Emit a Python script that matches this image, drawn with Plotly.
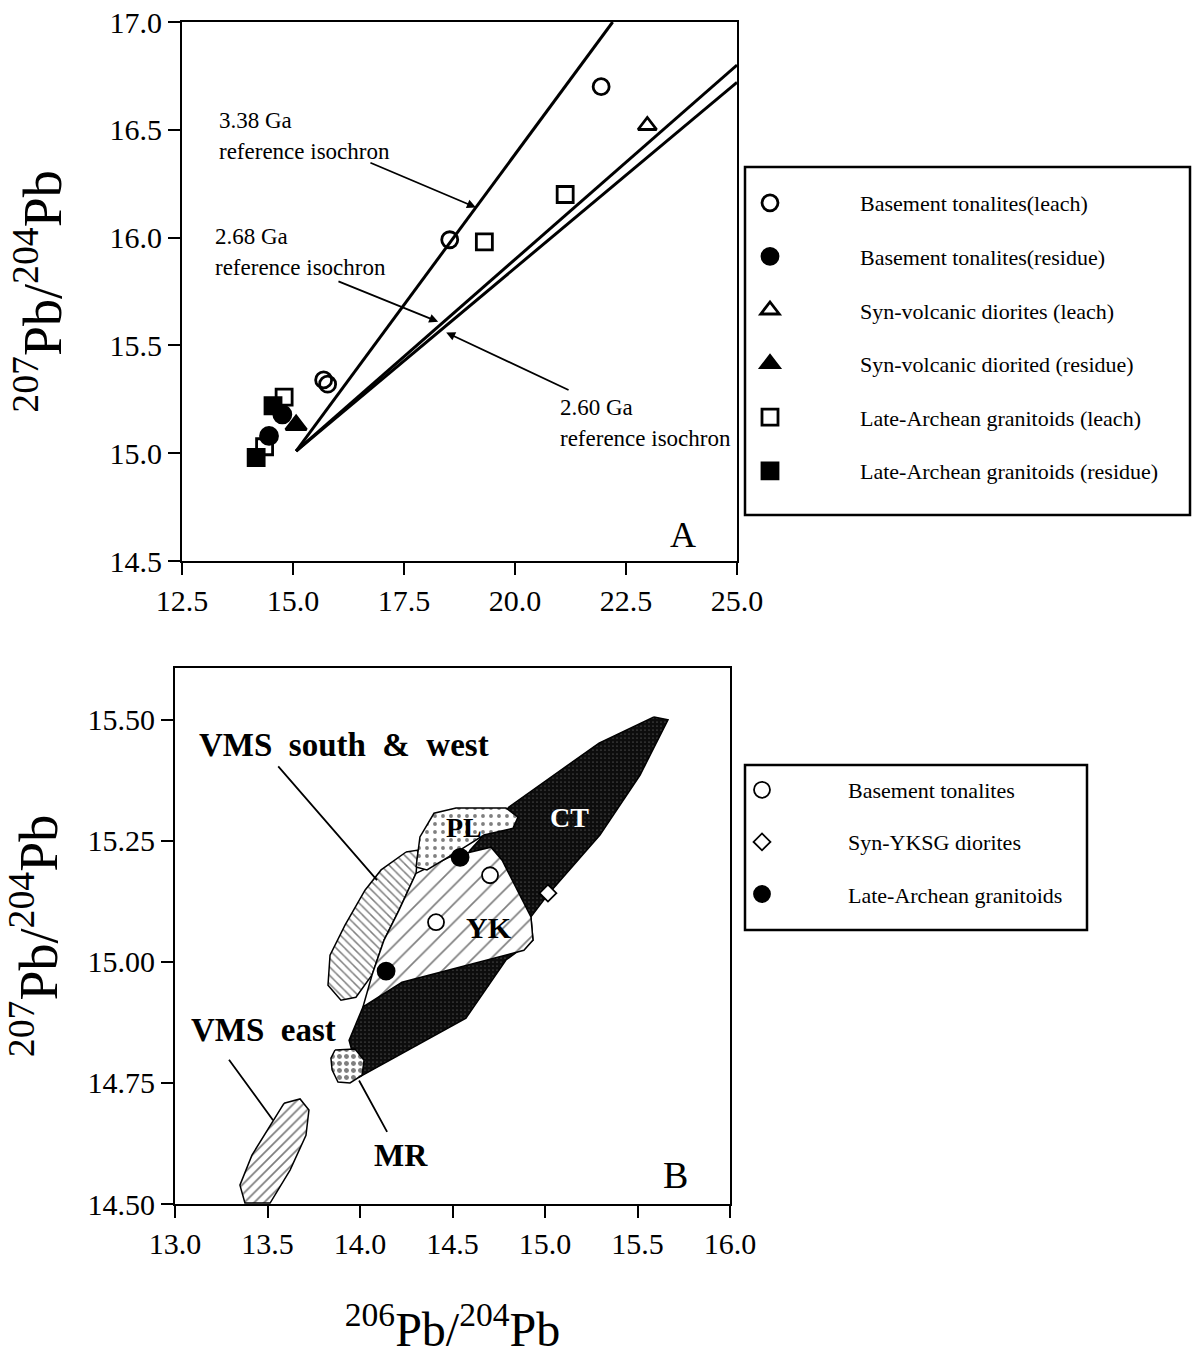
import plotly.graph_objects as go

SERIF = "Liberation Serif"

# ---------------- Panel A: leach / residue Pb compositions ----------------
bt_leach_x = [21.94, 18.53, 15.69, 15.78]
bt_leach_y = [16.70, 15.99, 15.34, 15.32]
bt_res_x = [14.76, 14.46]
bt_res_y = [15.18, 15.08]
sv_leach_x = [22.98]
sv_leach_y = [16.52]
sv_res_x = [15.07]
sv_res_y = [15.13]
la_leach_x = [21.13, 19.31, 14.80, 14.36]
la_leach_y = [16.20, 15.98, 15.26, 15.03]
la_res_x = [14.55, 14.17]
la_res_y = [15.22, 14.98]

# reference isochrons (start / end points)
iso338_x = [15.07, 22.20]
iso338_y = [15.01, 17.00]
iso268_x = [15.07, 25.00]
iso268_y = [15.01, 16.80]
iso260_x = [15.07, 25.00]
iso260_y = [15.01, 16.72]

# ---------------- Panel B: field outlines ----------------
ct_x = [15.589, 15.665, 15.514, 15.297, 15.022, 14.924, 14.935, 14.789, 14.573,
        13.995, 13.941, 14.016, 14.227, 14.432, 14.595, 14.805, 15.292]
ct_y = [15.506, 15.500, 15.386, 15.262, 15.142, 15.093, 15.045, 15.004, 14.884,
        14.762, 14.838, 14.907, 14.958, 15.086, 15.231, 15.320, 15.452]
yk_x = [14.303, 14.481, 14.708, 14.768, 14.924, 14.935, 14.886, 14.227, 14.016,
        14.065, 14.130, 14.211]
yk_y = [15.183, 15.216, 15.237, 15.210, 15.093, 15.045, 15.024, 14.958, 14.907,
        14.973, 15.045, 15.107]
pl_x = [14.303, 14.324, 14.400, 14.519, 14.789, 14.854, 14.827, 14.670, 14.557, 14.362]
pl_y = [15.196, 15.258, 15.307, 15.318, 15.318, 15.299, 15.276, 15.262, 15.235, 15.190]
vsw_x = [14.249, 14.314, 14.303, 14.211, 14.130, 14.065, 13.978, 13.897, 13.827,
         13.838, 13.919, 14.027, 14.114]
vsw_y = [15.227, 15.231, 15.183, 15.107, 15.045, 14.973, 14.927, 14.921, 14.952,
         15.014, 15.076, 15.148, 15.190]
ve_x = [13.589, 13.676, 13.724, 13.708, 13.622, 13.514, 13.378, 13.351, 13.416, 13.514]
ve_y = [14.708, 14.717, 14.694, 14.642, 14.570, 14.502, 14.502, 14.539, 14.601, 14.663]
mr_x = [13.865, 13.973, 14.022, 14.011, 13.946, 13.881, 13.849, 13.843]
mr_y = [14.818, 14.820, 14.797, 14.766, 14.750, 14.752, 14.777, 14.801]

# Panel B samples
b_bt_x = [14.703, 14.411]
b_bt_y = [15.179, 15.082]
b_sd_x = [15.016]
b_sd_y = [15.142]
b_la_x = [14.541, 14.141]
b_la_y = [15.216, 14.981]

fig = go.Figure()

# isochron lines
for lx, ly in [(iso338_x, iso338_y), (iso268_x, iso268_y), (iso260_x, iso260_y)]:
    fig.add_trace(go.Scatter(x=lx, y=ly, mode="lines", line=dict(color="black", width=3),
                             showlegend=False, hoverinfo="skip", xaxis="x", yaxis="y"))

top_series = [
    ("Basement tonalites(leach)", bt_leach_x, bt_leach_y, "circle-open", 16),
    ("Basement tonalites(residue)", bt_res_x, bt_res_y, "circle", 17),
    ("Syn-volcanic diorites (leach)", sv_leach_x, sv_leach_y, "triangle-up-open", 16),
    ("Syn-volcanic diorited (residue)", sv_res_x, sv_res_y, "triangle-up", 18),
    ("Late-Archean granitoids (leach)", la_leach_x, la_leach_y, "square-open", 16),
    ("Late-Archean granitoids (residue)", la_res_x, la_res_y, "square", 16),
]
for i, (name, sx, sy, sym, sz) in enumerate(top_series):
    fig.add_trace(go.Scatter(
        x=sx, y=sy, mode="markers", name=name, legend="legend", legendgroup=f"a{i}",
        marker=dict(symbol=sym, size=sz, color="black",
                    line=dict(color="black", width=2.8)),
        xaxis="x", yaxis="y"))

# Panel B fields
fields = [
    (ct_x, ct_y, dict(shape=".", bgcolor="#0d0d0d", fgcolor="white", size=4, solidity=0.07)),
    (vsw_x, vsw_y, dict(shape="\\", bgcolor="white", fgcolor="black", size=6, solidity=0.25)),
    (yk_x, yk_y, dict(shape="/", bgcolor="white", fgcolor="black", size=13, solidity=0.13)),
    (pl_x, pl_y, dict(shape=".", bgcolor="white", fgcolor="black", size=8, solidity=0.18)),
    (mr_x, mr_y, dict(shape=".", bgcolor="white", fgcolor="black", size=7, solidity=0.4)),
    (ve_x, ve_y, dict(shape="/", bgcolor="white", fgcolor="black", size=7, solidity=0.25)),
]
for fx, fy, pat in fields:
    fig.add_trace(go.Scatter(
        x=fx + fx[:1], y=fy + fy[:1], mode="lines", fill="toself",
        fillcolor=pat["bgcolor"], fillpattern=pat,
        line=dict(color="black", width=1.5), showlegend=False, hoverinfo="skip",
        xaxis="x2", yaxis="y2"))

bottom_series = [
    ("Basement tonalites", b_bt_x, b_bt_y, "circle", "white", 16),
    ("Syn-YKSG diorites", b_sd_x, b_sd_y, "diamond", "white", 13),
    ("Late-Archean granitoids", b_la_x, b_la_y, "circle", "black", 17),
]
for i, (name, sx, sy, sym, col, sz) in enumerate(bottom_series):
    fig.add_trace(go.Scatter(
        x=sx, y=sy, mode="markers", name=name, legend="legend2", legendgroup=f"b{i}",
        marker=dict(symbol=sym, size=sz, color=col, line=dict(color="black", width=1.8)),
        xaxis="x2", yaxis="y2"))

W, H = 1198, 1356
axis_common = dict(showline=True, linecolor="black", linewidth=2, mirror=True,
                   ticks="outside", ticklen=12, tickwidth=2, tickcolor="black",
                   showgrid=False, zeroline=False, automargin=False,
                   tickfont=dict(family=SERIF, size=30, color="black"))
ytitle_font = dict(family=SERIF, size=54, color="black")
xtitle_font = dict(family=SERIF, size=48, color="black")
leg_font = dict(family=SERIF, size=22, color="black")

fig.update_layout(
    width=W, height=H, margin=dict(l=0, r=0, t=0, b=0, autoexpand=False),
    paper_bgcolor="white", plot_bgcolor="white",
    xaxis=dict(domain=[182 / W, 737 / W], anchor="y", range=[12.5, 25.0],
               tick0=12.5, dtick=2.5, tickformat=".1f", **axis_common),
    yaxis=dict(domain=[1 - 561 / H, 1 - 22 / H], anchor="x", range=[14.5, 17.0],
               tick0=14.5, dtick=0.5, tickformat=".1f",
               title=dict(text="<sup>207</sup>Pb/<sup>204</sup>Pb", font=ytitle_font, standoff=31),
               **axis_common),
    xaxis2=dict(domain=[175 / W, 730 / W], anchor="y2", range=[13.0, 16.0],
                tick0=13.0, dtick=0.5, tickformat=".1f",
                title=dict(text="<sup>206</sup>Pb/<sup>204</sup>Pb", font=xtitle_font, standoff=60),
                **axis_common),
    yaxis2=dict(domain=[1 - 1204 / H, 1 - 668 / H], anchor="x2", range=[14.5, 15.607],
                tick0=14.5, dtick=0.25, tickformat=".2f",
                title=dict(text="<sup>207</sup>Pb/<sup>204</sup>Pb", font=ytitle_font, standoff=24),
                **axis_common),
    legend=dict(x=680 / W, y=1 - 182 / H, xanchor="left", yanchor="top",
                bgcolor="rgba(0,0,0,0)", borderwidth=0, tracegroupgap=22, itemwidth=170,
                font=leg_font),
    legend2=dict(x=676 / W, y=1 - 769 / H, xanchor="left", yanchor="top",
                 bgcolor="rgba(0,0,0,0)", borderwidth=0, tracegroupgap=20.5, itemwidth=162,
                 font=leg_font),
    shapes=[
        dict(type="rect", xref="paper", yref="paper", x0=745 / W, x1=1190 / W,
             y0=1 - 515 / H, y1=1 - 167 / H, line=dict(color="black", width=2.5)),
        dict(type="rect", xref="paper", yref="paper", x0=745 / W, x1=1087 / W,
             y0=1 - 930 / H, y1=1 - 765 / H, line=dict(color="black", width=2.5)),
    ],
)

ann = []
reg = dict(family=SERIF, size=23, color="black")
for txt, x, y in [("3.38 Ga", 13.29, 16.545), ("reference isochron", 13.29, 16.40),
                  ("2.68 Ga", 13.20, 16.003), ("reference isochron", 13.20, 15.859),
                  ("2.60 Ga", 20.97, 15.21), ("reference isochron", 20.97, 15.07)]:
    ann.append(dict(text=txt, x=x, y=y, xref="x", yref="y", showarrow=False,
                    xanchor="left", yanchor="middle", font=reg))
ann.append(dict(text="A", x=23.78, y=14.62, xref="x", yref="y", showarrow=False,
                font=dict(family=SERIF, size=36, color="black")))
# arrows to isochrons
for (hx, hy, tx, ty) in [(19.12, 16.14, 16.71, 16.35), (18.27, 15.61, 15.99, 15.80),
                         (18.45, 15.56, 21.24, 15.29)]:
    ann.append(dict(text="", x=hx, y=hy, ax=tx, ay=ty, xref="x", yref="y",
                    axref="x", ayref="y", showarrow=True, arrowhead=2, arrowsize=1,
                    arrowwidth=1.8, arrowcolor="black", standoff=0))

bold = dict(family=SERIF, size=33, color="black")
for txt, x, y, f in [("VMS  south  &  west", 13.914, 15.448, bold),
                     ("VMS  east", 13.476, 14.859, bold),
                     ("MR", 14.222, 14.601, dict(family=SERIF, size=32, color="black")),
                     ("PL", 14.562, 15.278, dict(family=SERIF, size=28, color="black")),
                     ("CT", 15.135, 15.299, dict(family=SERIF, size=28, color="white")),
                     ("YK", 14.697, 15.072, dict(family=SERIF, size=30, color="black")),
                     ("B", 15.703, 14.560, dict(family=SERIF, size=38, color="black"))]:
    t = txt if txt == "B" else f"<b>{txt}</b>"
    ann.append(dict(text=t, x=x, y=y, xref="x2", yref="y2", showarrow=False, font=f))
for (hx, hy, tx, ty) in [(14.092, 15.169, 13.551, 15.407), (13.530, 14.673, 13.286, 14.801),
                         (13.995, 14.755, 14.151, 14.646)]:
    ann.append(dict(text="", x=hx, y=hy, ax=tx, ay=ty, xref="x2", yref="y2",
                    axref="x2", ayref="y2", showarrow=True, arrowhead=0,
                    arrowwidth=1.8, arrowcolor="black", standoff=0))
fig.update_layout(annotations=ann)

fig.write_html("out.html")
